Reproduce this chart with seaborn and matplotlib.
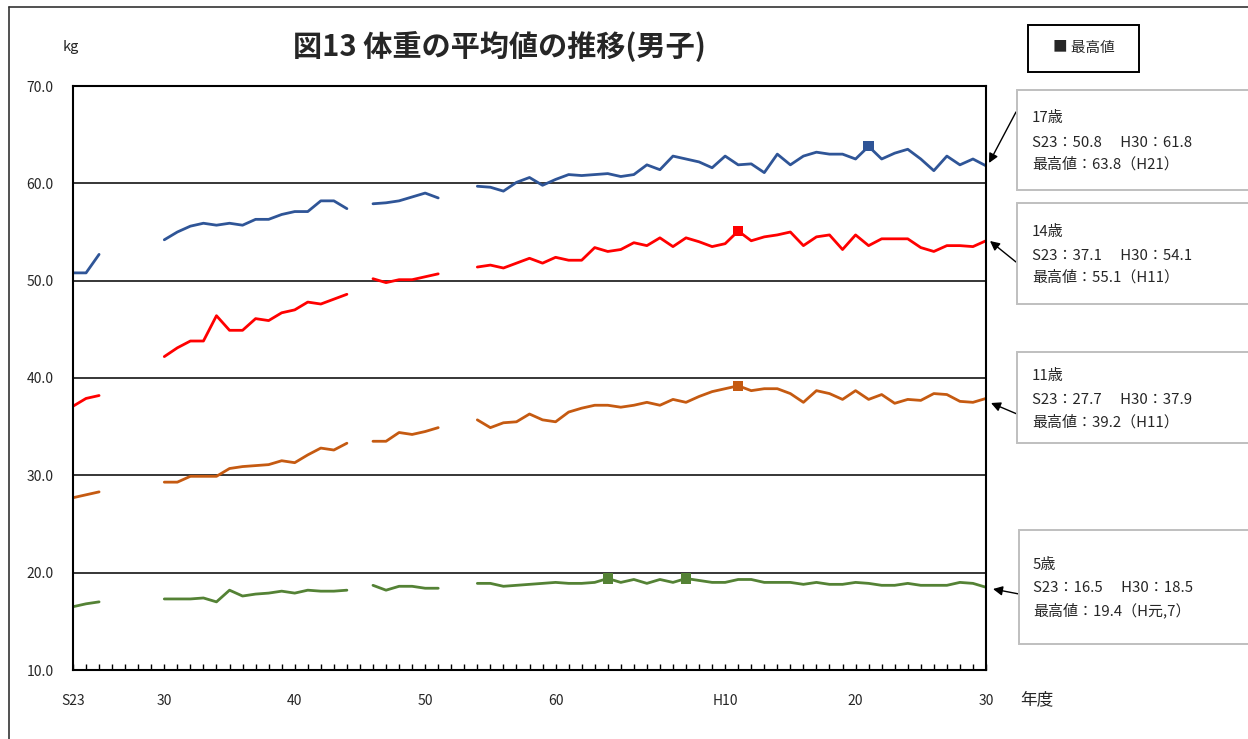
import numpy as np
import pandas as pd
import matplotlib
matplotlib.use('Agg')
import matplotlib.pyplot as plt
import seaborn as sns
from matplotlib.patches import Rectangle
from matplotlib.lines import Line2D

nan = np.nan
years = list(range(1948, 2019))

w17 = [50.8, 50.8, 52.7, nan, nan, nan, nan,
       54.2, 55.0, 55.6, 55.9, 55.7, 55.9, 55.7, 56.3, 56.3, 56.8, 57.1, 57.1, 58.2, 58.2, 57.4,
       nan,
       57.9, 58.0, 58.2, 58.6, 59.0, 58.5,
       nan, nan,
       59.7, 59.6, 59.2, 60.1, 60.6, 59.8, 60.4, 60.9, 60.8, 60.9,
       61.0, 60.7, 60.9, 61.9, 61.4, 62.8, 62.5, 62.2, 61.6, 62.8,
       61.9, 62.0, 61.1, 63.0, 61.9, 62.8, 63.2, 63.0, 63.0, 62.5,
       63.8, 62.5, 63.1, 63.5, 62.5, 61.3, 62.8, 61.9, 62.5, 61.8]

w14 = [37.1, 37.9, 38.2, nan, nan, nan, nan,
       42.2, 43.1, 43.8, 43.8, 46.4, 44.9, 44.9, 46.1, 45.9, 46.7, 47.0, 47.8, 47.6, 48.1, 48.6,
       nan,
       50.2, 49.8, 50.1, 50.1, 50.4, 50.7,
       nan, nan,
       51.4, 51.6, 51.3, 51.8, 52.3, 51.8, 52.4, 52.1, 52.1, 53.4,
       53.0, 53.2, 53.9, 53.6, 54.4, 53.5, 54.4, 54.0, 53.5, 53.8,
       55.1, 54.1, 54.5, 54.7, 55.0, 53.6, 54.5, 54.7, 53.2, 54.7,
       53.6, 54.3, 54.3, 54.3, 53.4, 53.0, 53.6, 53.6, 53.5, 54.1]

w11 = [27.7, 28.0, 28.3, nan, nan, nan, nan,
       29.3, 29.3, 29.9, 29.9, 29.9, 30.7, 30.9, 31.0, 31.1, 31.5, 31.3, 32.1, 32.8, 32.6, 33.3,
       nan,
       33.5, 33.5, 34.4, 34.2, 34.5, 34.9,
       nan, nan,
       35.7, 34.9, 35.4, 35.5, 36.3, 35.7, 35.5, 36.5, 36.9, 37.2,
       37.2, 37.0, 37.2, 37.5, 37.2, 37.8, 37.5, 38.1, 38.6, 38.9,
       39.2, 38.7, 38.9, 38.9, 38.4, 37.5, 38.7, 38.4, 37.8, 38.7,
       37.8, 38.3, 37.4, 37.8, 37.7, 38.4, 38.3, 37.6, 37.5, 37.9]

w5 = [16.5, 16.8, 17.0, nan, nan, nan, nan,
      17.3, 17.3, 17.3, 17.4, 17.0, 18.2, 17.6, 17.8, 17.9, 18.1, 17.9, 18.2, 18.1, 18.1, 18.2,
      nan,
      18.7, 18.2, 18.6, 18.6, 18.4, 18.4,
      nan, nan,
      18.9, 18.9, 18.6, 18.7, 18.8, 18.9, 19.0, 18.9, 18.9, 19.0,
      19.4, 19.0, 19.3, 18.9, 19.3, 19.0, 19.4, 19.2, 19.0, 19.0,
      19.3, 19.3, 19.0, 19.0, 19.0, 18.8, 19.0, 18.8, 18.8, 19.0,
      18.9, 18.7, 18.7, 18.9, 18.7, 18.7, 18.7, 19.0, 18.9, 18.5]

ages = ['17歳', '14歳', '11歳', '5歳']
series = {'17歳': w17, '14歳': w14, '11歳': w11, '5歳': w5}
colors = {'17歳': '#2F5597', '14歳': '#FF0000', '11歳': '#C55A11', '5歳': '#548235'}

tick_years = [1948, 1955, 1965, 1975, 1985, 1998, 2008, 2018]
tick_labels = ['S23', '30', '40', '50', '60', 'H10', '20', '30']

note_lines = {
    '17歳': ['17歳', 'S23：50.8\u3000 H30：61.8', '最高値：63.8（H21）'],
    '14歳': ['14歳', 'S23：37.1\u3000 H30：54.1', '最高値：55.1（H11）'],
    '11歳': ['11歳', 'S23：27.7\u3000 H30：37.9', '最高値：39.2（H11）'],
    '5歳': ['5歳', 'S23：16.5\u3000 H30：18.5', '最高値：19.4（H元,7）'],
}

title = '図13 体重の平均値の推移(男子)'

# ---------------------------------------------------------------
sns.set_style('white')
plt.rcParams['font.family'] = ['Noto Sans CJK JP', 'DejaVu Sans']

W, H = 1248, 739
fig = plt.figure(figsize=(W / 100, H / 100), dpi=100)


def fx(x):
    return x / W


def fy(y):
    return 1 - y / H


ax = fig.add_axes([fx(73), fy(670), (986 - 73) / W, (670 - 86) / H])

rows = []
for age in ages:
    seg = 0
    prev_nan = True
    for yr, v in zip(years, series[age]):
        if np.isnan(v):
            prev_nan = True
            continue
        if prev_nan:
            seg += 1
            prev_nan = False
        rows.append(dict(year=yr, kg=v, age=age, seg=f'{age}-{seg}'))
df = pd.DataFrame(rows)

sns.lineplot(data=df, x='year', y='kg', hue='age', units='seg', estimator=None,
             palette=colors, linewidth=2.0, legend=False, ax=ax)

mx = df[df.groupby('age')['kg'].transform('max') == df['kg']]
sns.scatterplot(data=mx, x='year', y='kg', hue='age', palette=colors, marker='s',
                s=55, linewidth=0, legend=False, ax=ax, zorder=5)

ax.set_xlim(1948, 2018)
ax.set_ylim(10, 70)
ax.set_yticks(range(10, 71, 10))
ax.set_yticklabels([f'{v:.1f}' for v in range(10, 71, 10)], fontsize=10)
ax.set_xticks(tick_years)
ax.set_xticklabels(tick_labels, fontsize=10)
ax.set_xticks(years, minor=True)
ax.tick_params(axis='x', which='both', direction='in', length=4, width=1,
               color='black', pad=17, bottom=True, top=False)
ax.tick_params(axis='y', which='both', length=0, pad=14)
ax.grid(axis='y', color='black', linewidth=1.1)
ax.grid(axis='x', visible=False)
for sp in ax.spines.values():
    sp.set_color('black')
    sp.set_linewidth(1.5)
ax.set_xlabel('')
ax.set_ylabel('')

# texts
fig.text(fx(499), fy(47), title, ha='center', va='center', fontsize=21, fontweight='bold')
fig.text(fx(71), fy(47), 'kg', ha='center', va='center', fontsize=10.5)
fig.text(fx(1037), fy(700), '年度', ha='center', va='center', fontsize=12)

# outer frame
fig.add_artist(Line2D([fx(8.5), fx(8.5)], [0, fy(7)], transform=fig.transFigure,
                      color='#333333', linewidth=1.2))
fig.add_artist(Line2D([fx(8.5), 1], [fy(7), fy(7)], transform=fig.transFigure,
                      color='#333333', linewidth=1.2))


def box(x0, y0, x1, y1, ec, lw):
    fig.add_artist(Rectangle((fx(x0), fy(y1)), (x1 - x0) / W, (y1 - y0) / H,
                             transform=fig.transFigure, facecolor='white',
                             edgecolor=ec, linewidth=lw))


# legend box
box(1028, 25, 1139, 72, 'black', 1.4)
fig.text(fx(1084), fy(48), '■ 最高値', ha='center', va='center', fontsize=10.5)

# note boxes
layout = {
    '17歳': dict(box=(1017, 90, 1262, 190), ty=(118, 143, 164), tx=1032,
                 arrow=((1016, 112), (989, 163))),
    '14歳': dict(box=(1017, 203, 1262, 304), ty=(232, 256, 277), tx=1032,
                 arrow=((1016, 262), (990, 241))),
    '11歳': dict(box=(1017, 352, 1262, 443), ty=(376, 400, 422), tx=1032,
                 arrow=((1017, 414), (991, 403))),
    '5歳': dict(box=(1019, 530, 1262, 644), ty=(565, 588, 610), tx=1033,
                arrow=((1019, 594), (993, 589))),
}
for age in ages:
    L = layout[age]
    box(*L['box'], '#BFBFBF', 1.4)
    for t, yy in zip(note_lines[age], L['ty']):
        fig.text(fx(L['tx']), fy(yy), t, ha='left', va='center', fontsize=10.8)
    (x0, y0), (x1, y1) = L['arrow']
    ax.annotate('', xy=(x1, H - y1), xycoords='figure pixels',
                xytext=(x0, H - y0), textcoords='figure pixels',
                arrowprops=dict(arrowstyle='-|>', color='black', lw=1.0,
                                mutation_scale=14, shrinkA=0, shrinkB=0))

fig.savefig('out.png', dpi=100)
